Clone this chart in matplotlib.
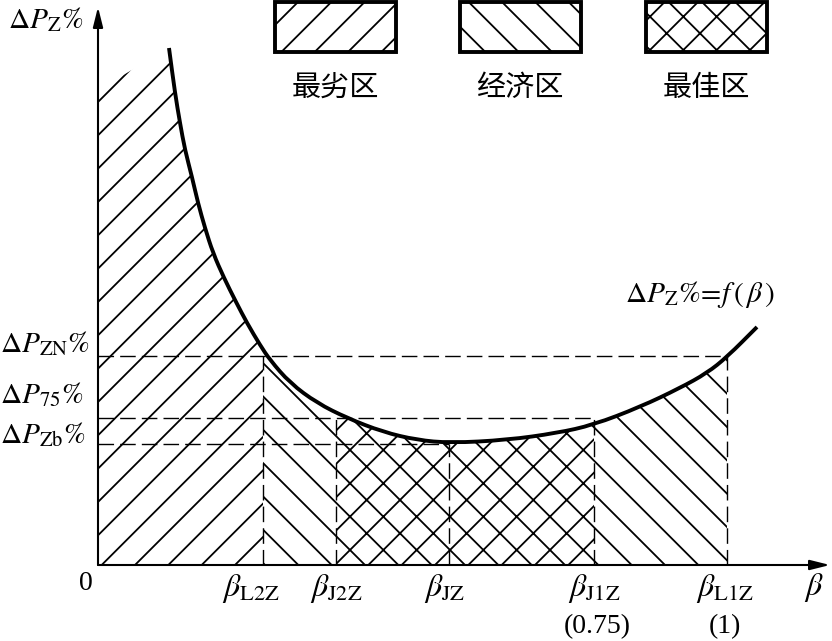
import numpy as np
import matplotlib
matplotlib.use('Agg')
import matplotlib.pyplot as plt
from matplotlib.patches import Rectangle, PathPatch
from matplotlib.path import Path

plt.rcParams['mathtext.fontset'] = 'stix'
plt.rcParams['hatch.linewidth'] = 0.65
plt.rcParams['lines.scale_dashes'] = False

# === Curve  dP_Z% = f(beta) (schematic units) ===
beta = np.array([71, 77, 82, 87, 94, 100, 107, 115, 126, 138, 149, 162, 172, 192,
                 219, 249, 285, 319, 352, 409, 459, 495, 542, 582, 609, 629, 659])
dPz = np.array([517, 472, 442, 415, 388, 362, 337, 312, 287, 263, 242, 220, 205, 182,
                162, 147, 133, 125, 122, 125, 132, 140, 158, 177, 192, 208, 238])

# characteristic load factors (x) and loss levels (y)
b_L2Z, b_J2Z, b_JZ, b_J1Z, b_L1Z = 165, 238, 351, 496, 629
P_ZN, P_75, P_Zb = 209, 147, 121
top_left = 475   # where the worst-zone hatching meets the y axis

zones = [  # (from, to, hatch)
    (b_L2Z, b_J2Z, '\\\\'),
    (b_J2Z, b_J1Z, 'xx'),
    (b_J1Z, b_L1Z, '\\\\'),
]
legend_names = ['最劣区', '经济区', '最佳区']
legend_hatch = ['//', '\\\\', 'xx']

fig = plt.figure(figsize=(4.16, 3.205), dpi=200)
ax = fig.add_axes([0, 0, 1, 1])
ax.set_xlim(-98, 734)
ax.set_ylim(-76, 565)
ax.axis('off')


def under_curve(a, b):
    xs = np.concatenate([[a], beta[(beta > a) & (beta < b)], [b]])
    return xs, np.interp(xs, beta, dPz)


# worst zone: from the y axis to beta_L2Z
xs, ys = under_curve(beta[0], b_L2Z)
xs = np.concatenate([[0], xs])
ys = np.concatenate([[top_left], ys])
ax.fill_between(xs, 0, ys, facecolor='none', edgecolor='black', hatch='//', linewidth=0)

for a, b, h in zones:
    xs, ys = under_curve(a, b)
    ax.fill_between(xs, 0, ys, facecolor='none', edgecolor='black', hatch=h, linewidth=0)

# dashed guide lines
dash = dict(color='black', lw=0.5, dashes=(5.6, 2.2))
ax.plot([0, b_L1Z], [P_ZN, P_ZN], **dash)
ax.plot([0, b_J1Z], [P_75, P_75], **dash)
ax.plot([0, b_JZ], [P_Zb, P_Zb], **dash)
ax.plot([b_L2Z, b_L2Z], [0, P_ZN], **dash)
ax.plot([b_L1Z, b_L1Z], [0, P_ZN], **dash)
ax.plot([b_J2Z, b_J2Z], [0, P_75], **dash)
ax.plot([b_J1Z, b_J1Z], [0, P_75], **dash)
ax.plot([b_JZ, b_JZ], [0, P_Zb], **dash)

# the curve, smoothed with quadratic segments through the read points
pts = np.column_stack([beta, dPz]).astype(float)
mids = (pts[1:] + pts[:-1]) / 2
verts = [pts[0], mids[0]]
codes = [Path.MOVETO, Path.LINETO]
for i in range(1, len(pts) - 1):
    verts += [pts[i], mids[i]]
    codes += [Path.CURVE3, Path.CURVE3]
verts.append(pts[-1])
codes.append(Path.LINETO)
ax.add_patch(PathPatch(Path(verts, codes), facecolor='none', edgecolor='black', lw=1.4))

# axes with arrows
arrow = dict(arrowstyle='-|>,head_length=0.6,head_width=0.15', color='black',
             lw=0.75, mutation_scale=10, shrinkA=0, shrinkB=0)
ax.annotate('', xy=(732, 0), xytext=(0, 0), arrowprops=arrow)
ax.annotate('', xy=(0, 558), xytext=(0, 0), arrowprops=arrow)

# axis texts
mfs = 10.6
ax.text(-90, 545, r'$\Delta P_{\rm Z}\%$', fontsize=mfs, ha='left', va='center')
ax.text(-98, 213, r'$\Delta P_{\rm ZN}\%$', fontsize=mfs, ha='left', va='baseline')
ax.text(-98, 162, r'$\Delta P_{75}\%$', fontsize=mfs, ha='left', va='baseline')
ax.text(-98, 122, r'$\Delta P_{\rm Zb}\%$', fontsize=mfs, ha='left', va='baseline')
ax.text(-12, -18, '0', fontsize=10, family='Liberation Serif', ha='center', va='center')
ax.text(716, -22, r'$\beta$', fontsize=11.5, ha='center', va='center')
ax.text(527, 270, r'$\Delta P_{\rm Z}\%\!=\!f\,(\,\beta\,)$', fontsize=mfs, ha='left', va='center')

xlabels = [(b_L2Z - 12, r'$\beta_{\rm L2Z}$'), (b_J2Z, r'$\beta_{\rm J2Z}$'),
           (b_JZ - 4, r'$\beta_{\rm JZ}$'), (b_J1Z, r'$\beta_{\rm J1Z}$'),
           (b_L1Z - 2, r'$\beta_{\rm L1Z}$')]
for x, s in xlabels:
    ax.text(x, -7, s, fontsize=11.5, ha='center', va='top')
ax.text(b_J1Z + 3, -74, '(0.75)', fontsize=10, family='Liberation Serif', ha='center', va='bottom')
ax.text(b_L1Z - 2, -74, '(1)', fontsize=10, family='Liberation Serif', ha='center', va='bottom')

# legend boxes
box_x = [177, 362, 548]
for x0, name, h in zip(box_x, legend_names, legend_hatch):
    ax.add_patch(Rectangle((x0, 513), 121, 50, facecolor='none', edgecolor='black',
                           hatch=h, lw=1.4))
    ax.text(x0 + 60, 477, name, fontsize=10.5, family='Noto Sans CJK SC',
            ha='center', va='center')

fig.savefig('out.png', dpi=200)
